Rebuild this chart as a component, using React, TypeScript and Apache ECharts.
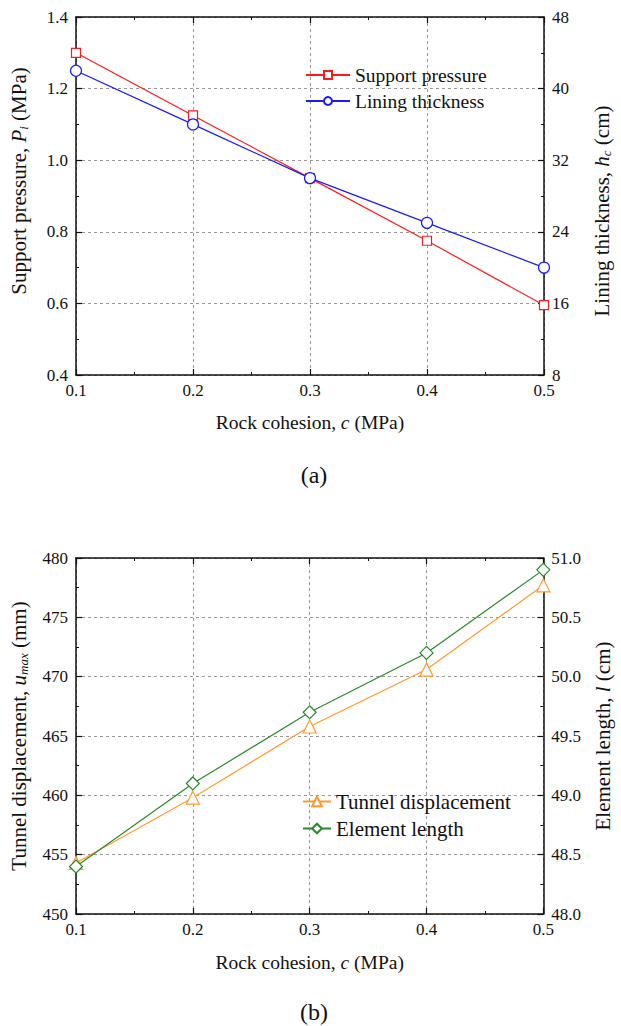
import React, { useEffect, useRef } from "react";
import * as echarts from "echarts";

const cohesion = [0.1, 0.2, 0.3, 0.4, 0.5];
const supportPressure = [1.3, 1.125, 0.95, 0.775, 0.595];
const liningThickness = [42, 36, 30, 25, 20];
const tunnelDisplacement = [454.3, 459.8, 465.8, 470.6, 477.7];
const elementLength = [48.4, 49.1, 49.7, 50.2, 50.9];

const FONT = "Liberation Serif";

const pairs = (ys: number[]) => cohesion.map((x, i) => [x, ys[i]]);

export default function App() {
  const ref = useRef<HTMLDivElement>(null);
  useEffect(() => {
    if (!ref.current) return;
    const chart = echarts.init(ref.current, null, { renderer: "svg" });
    const textBase = { fontFamily: FONT, fontSize: 17, color: "#111" };
    const axisLine = { show: true, lineStyle: { color: "#111", width: 1.5 } };
    const axisTick = { show: true, inside: true, length: 6, lineStyle: { color: "#111", width: 1.2 } };
    const minorTick = { show: true, splitNumber: 2, length: 3, lineStyle: { color: "#111", width: 1 } };
    const splitLine = { show: true, lineStyle: { color: "#999", type: [3, 3] as any, width: 1 } };
    const mkRich = (fs: number) => ({
      i: { fontFamily: FONT, fontSize: fs, fontStyle: "italic", color: "#111" },
      sub: { fontFamily: FONT, fontSize: Math.round(fs * 0.6), fontStyle: "italic", color: "#111", verticalAlign: "bottom", padding: [Math.round(fs * 0.45), 0, 0, 0] },
      t: { fontFamily: FONT, fontSize: fs, color: "#111" },
    });
    const xAxisBottom = (grid: number, gap: number) => ({
      type: "value", gridIndex: grid, min: 0.1, max: 0.5, interval: 0.1,
      axisLine, axisTick, minorTick, splitLine,
      axisLabel: { ...textBase, margin: 7, formatter: (v: number) => v.toFixed(1) },
      name: "{t|Rock cohesion, }{i|c}{t| (MPa)}", nameLocation: "middle", nameGap: gap,
      nameTextStyle: { ...textBase, fontSize: 19.5, rich: mkRich(19.5) },
    });
    const xAxisTop = (grid: number) => ({
      type: "value", gridIndex: grid, position: "top", min: 0.1, max: 0.5, interval: 0.1,
      axisLine, axisTick, minorTick, splitLine: { show: false }, axisLabel: { show: false },
    });
    const yName = (text: string, gap: number, padding: number[]) => ({
      name: text, nameLocation: "middle", nameGap: gap,
      nameTextStyle: { ...textBase, fontSize: 21, rich: mkRich(21), padding },
    });
    const titleStyle = { fontFamily: FONT, fontSize: 24, fontWeight: "normal", color: "#111" };
    const option: any = {
      animation: false,
      backgroundColor: "#fff",
      textStyle: { fontFamily: FONT },
      title: [
        { text: "(a)", left: 314, top: 463, padding: 0, textAlign: "center", textStyle: titleStyle },
        { text: "(b)", left: 314, top: 1000, padding: 0, textAlign: "center", textStyle: titleStyle },
      ],
      grid: [
        { left: 76, top: 17, width: 479, height: 358 },
        { left: 76, top: 558, width: 479, height: 356 },
      ],
      legend: [
        {
          data: ["Support pressure", "Lining thickness"], orient: "vertical", left: 300, top: 60,
          itemWidth: 44, itemHeight: 10, itemGap: 6, textStyle: { ...textBase, fontSize: 19.5 },
        },
        {
          data: ["Tunnel displacement", "Element length"], orient: "vertical", left: 297, top: 786,
          itemWidth: 28, itemHeight: 12, itemGap: 6, textStyle: { ...textBase, fontSize: 21 },
        },
      ],
      xAxis: [xAxisBottom(0, 37), xAxisTop(0), xAxisBottom(1, 38), xAxisTop(1)],
      yAxis: [
        {
          type: "value", gridIndex: 0, min: 0.4, max: 1.4, interval: 0.2, position: "left",
          axisLine, axisTick, minorTick, splitLine,
          axisLabel: { ...textBase, margin: 8, formatter: (v: number) => v.toFixed(1) },
          ...yName("{t|Support pressure, }{i|P}{sub|i}{t| (MPa)}", 46, [0, 0, 0, 30]),
        },
        {
          type: "value", gridIndex: 0, min: 8, max: 48, interval: 8, position: "right",
          axisLine, axisTick, minorTick, splitLine: { show: false },
          axisLabel: { ...textBase, margin: 8 },
          ...yName("{t|Lining thickness, }{i|h}{sub|c}{t| (cm)}", 47, [0, 30, 0, 0]),
        },
        {
          type: "value", gridIndex: 1, min: 450, max: 480, interval: 5, position: "left",
          axisLine, axisTick, minorTick, splitLine,
          axisLabel: { ...textBase, margin: 8 },
          ...yName("{t|Tunnel displacement, }{i|u}{sub|max}{t| (mm)}", 46, [0, 0, 0, 0]),
        },
        {
          type: "value", gridIndex: 1, min: 48, max: 51, interval: 0.5, position: "right",
          axisLine, axisTick, minorTick, splitLine: { show: false },
          axisLabel: { ...textBase, margin: 8, formatter: (v: number) => v.toFixed(1) },
          ...yName("{t|Element length, }{i|l}{t| (cm)}", 47, [0, 0, 0, 0]),
        },
      ],
      series: [
        {
          name: "Support pressure", type: "line", xAxisIndex: 0, yAxisIndex: 0,
          data: pairs(supportPressure), symbol: "rect", symbolSize: 9,
          itemStyle: { color: "#fff", borderColor: "#ff1a1a", borderWidth: 1.2 },
          lineStyle: { color: "#ff1a1a", width: 1.2 }, color: "#ff1a1a",
        },
        {
          name: "Lining thickness", type: "line", xAxisIndex: 0, yAxisIndex: 1,
          data: pairs(liningThickness), symbol: "circle", symbolSize: 11,
          itemStyle: { color: "#fff", borderColor: "#1a1aff", borderWidth: 1.2 },
          lineStyle: { color: "#1a1aff", width: 1.2 }, color: "#1a1aff",
        },
        {
          name: "Tunnel displacement", type: "line", xAxisIndex: 2, yAxisIndex: 2,
          data: pairs(tunnelDisplacement), symbol: "triangle", symbolSize: 13,
          itemStyle: { color: "#fff", borderColor: "#ff9a2e", borderWidth: 1.2 },
          lineStyle: { color: "#ff9a2e", width: 1.2 }, color: "#ff9a2e",
        },
        {
          name: "Element length", type: "line", xAxisIndex: 2, yAxisIndex: 3,
          data: pairs(elementLength), symbol: "diamond", symbolSize: 13,
          itemStyle: { color: "#fff", borderColor: "#2a8a2a", borderWidth: 1.2 },
          lineStyle: { color: "#2a8a2a", width: 1.2 }, color: "#2a8a2a",
        },
      ],
    };
    chart.setOption(option);
    return () => chart.dispose();
  }, []);
  return (
    <div
      ref={ref}
      style={{ position: "fixed", left: 0, top: 0, width: 621, height: 1026, background: "#fff", overflow: "hidden" }}
    />
  );
}
